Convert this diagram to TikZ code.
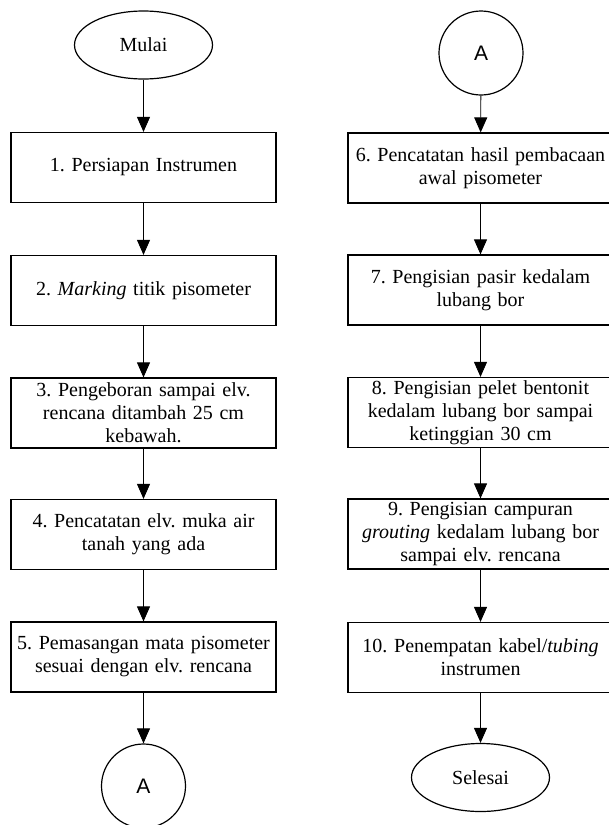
\documentclass[tikz,border=0pt]{standalone}
\usepackage{fontspec}
\setmainfont{Liberation Serif}
\newfontfamily\labelsans{Liberation Sans}
\usetikzlibrary{arrows.meta,shapes.geometric}
\frenchspacing
\begin{document}
\begin{tikzpicture}[x=1pt,y=-1pt,
  stepbox/.style={draw, line width=1.2pt, minimum width=265pt, minimum height=70pt,
    inner sep=0pt, align=center, text width=265pt,
    font=\fontsize{20}{23}\selectfont},
  terminal/.style={draw, line width=1.2pt, ellipse, inner sep=0pt,
    minimum width=138pt, minimum height=68pt,
    font=\fontsize{20}{23}\selectfont},
  connector/.style={draw, line width=1.2pt, circle, inner sep=0pt, minimum size=84pt,
    font=\labelsans\fontsize{21}{24}\selectfont},
  flow/.style={line width=0.9pt, -{Triangle[width=13pt,length=15pt]}}]
\useasboundingbox (0,0) rectangle (609,825);
\clip (0,0) rectangle (609,825);

% left column
\node[terminal] (start) at (143.5,45) {Mulai};
\node[stepbox] (s1) at (143.5,167.5) {1. Persiapan Instrumen};
\node[stepbox] (s2) at (143.5,290.5) {2. \textit{Marking} titik pisometer};
\node[stepbox] (s3) at (143.5,413) {3. Pengeboran sampai elv.\\rencana ditambah 25 cm\\kebawah.};
\node[stepbox] (s4) at (143.5,534.5) {4. Pencatatan elv. muka air\\tanah yang ada};
\node[stepbox] (s5) at (143.5,657) {5. Pemasangan mata pisometer\\sesuai dengan elv. rencana};
\node[connector] (a1) at (143.5,786) {A};

% right column
\node[connector] (a2) at (481,53) {A};
\node[stepbox] (s6) at (480.5,168) {6. Pencatatan hasil pembacaan\\awal pisometer};
\node[stepbox] (s7) at (480.5,290) {7. Pengisian pasir kedalam\\lubang bor};
\node[stepbox] (s8) at (480.5,412.5) {8. Pengisian pelet bentonit\\kedalam lubang bor sampai\\ketinggian 30 cm};
\node[stepbox] (s9) at (480.5,534) {9. Pengisian campuran\\\textit{grouting} kedalam lubang bor\\sampai elv. rencana};
\node[stepbox] (s10) at (480.5,657.5) {10. Penempatan kabel/\textit{tubing}\\instrumen};
\node[terminal] (end) at (480.5,777.5) {Selesai};

% connectors
\draw[flow] (start) -- (s1);
\draw[flow] (s1) -- (s2);
\draw[flow] (s2) -- (s3);
\draw[flow] (s3) -- (s4);
\draw[flow] (s4) -- (s5);
\draw[flow] (s5) -- (a1);
\draw[flow] (a2) -- (s6);
\draw[flow] (s6) -- (s7);
\draw[flow] (s7) -- (s8);
\draw[flow] (s8) -- (s9);
\draw[flow] (s9) -- (s10);
\draw[flow] (s10) -- (end);
\end{tikzpicture}
\end{document}
